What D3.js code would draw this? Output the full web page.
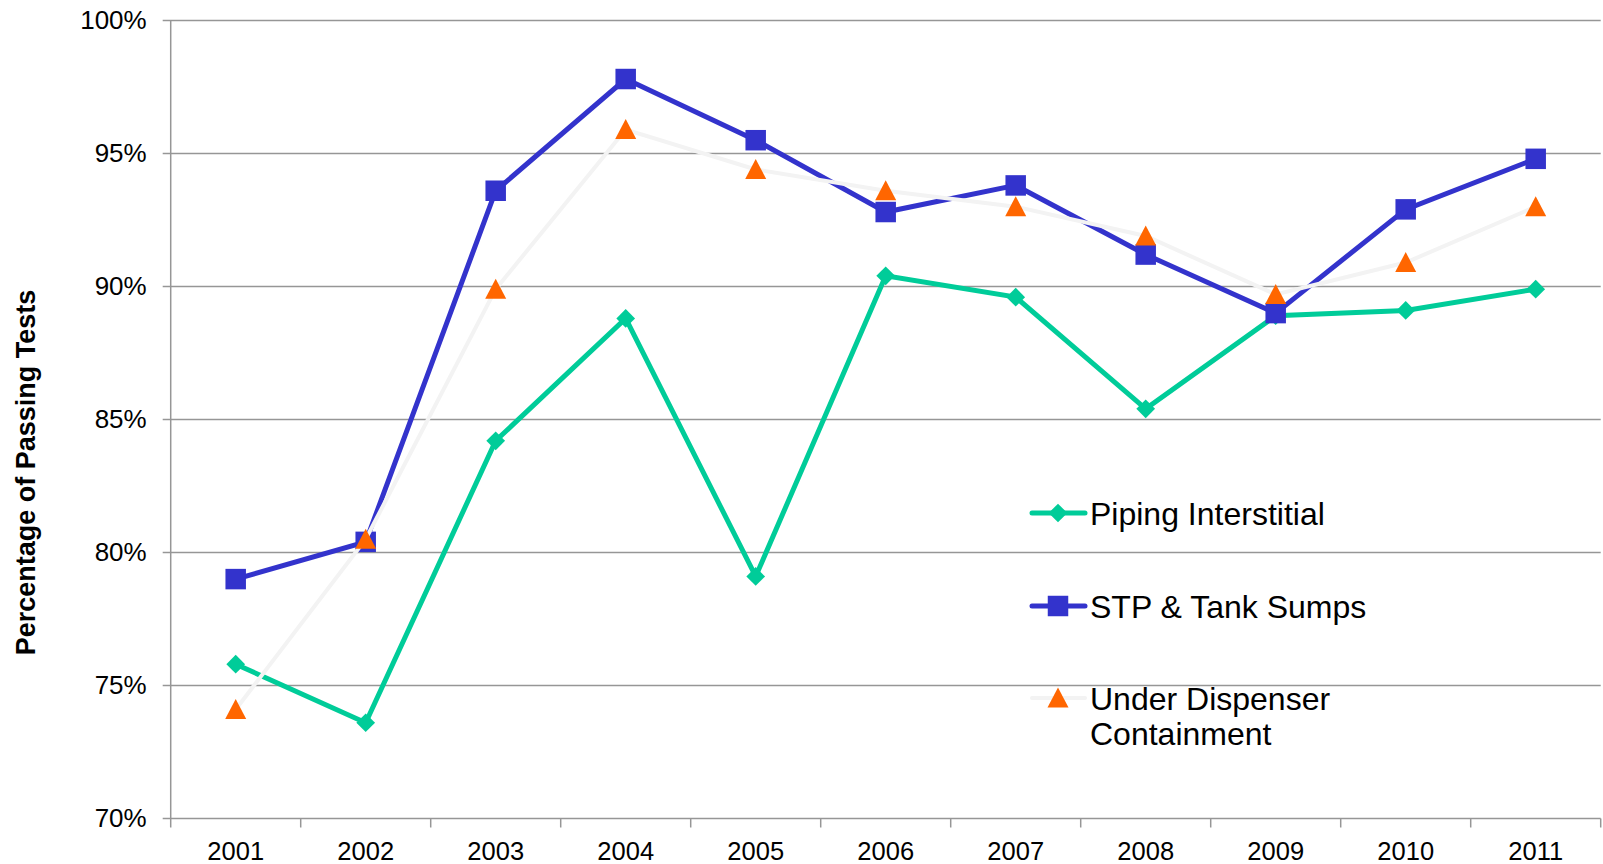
<!DOCTYPE html>
<html>
  <head>
	<meta charset="utf-8">
	<title>Percentage of Passing Tests</title>
	<script src="https://cdn.jsdelivr.net/npm/d3@7" type="text/javascript" charset="utf-8"></script>
	<style>
	  body { margin: 0; background: #fff; }
	  svg { display: block; font-family: "Liberation Sans", Arial, sans-serif; }
	</style>
  </head>
  <body>
	<svg></svg>
  </body>
  <script type="text/javascript">
	var years = ['2001', '2002', '2003', '2004', '2005', '2006', '2007', '2008', '2009', '2010', '2011'];
	var piping = [75.8, 73.6, 84.2, 88.8, 79.1, 90.4, 89.6, 85.4, 88.9, 89.1, 89.9];
	var sumps = [79.0, 80.4, 93.6, 97.8, 95.5, 92.8, 93.8, 91.2, 89.0, 92.9, 94.8];
	var dispenser = [74.1, 80.5, 89.9, 95.9, 94.4, 93.6, 93.0, 91.9, 89.7, 90.9, 93.0];
	var yTicks = [70, 75, 80, 85, 90, 95, 100];

	(function() {
	  var svg = d3.select('svg')
				.attr('width', 1603)
				.attr('height', 864),
		  left = 170.7, right = 1600.7, top = 20.5, bottom = 818.5;

	  var x = d3.scaleBand().domain(years).range([left, right]).padding(0);
	  var y = d3.scaleLinear().domain([70, 100]).range([bottom, top]);

	  // grid
	  svg.append('g').selectAll('line')
		 .data(yTicks)
		 .enter()
		 .append('line')
		 .attr('x1', left - 8)
		 .attr('x2', right)
		 .attr('y1', function(d) { return y(d); })
		 .attr('y2', function(d) { return y(d); })
		 .attr('stroke', '#969696')
		 .attr('stroke-width', 1.5);

	  svg.append('line')
		 .attr('x1', left).attr('x2', left)
		 .attr('y1', top).attr('y2', bottom)
		 .attr('stroke', '#969696')
		 .attr('stroke-width', 1.5);

	  // category boundary ticks
	  svg.append('g').selectAll('line')
		 .data(d3.range(years.length + 1))
		 .enter()
		 .append('line')
		 .attr('x1', function(i) { return left + i * x.bandwidth(); })
		 .attr('x2', function(i) { return left + i * x.bandwidth(); })
		 .attr('y1', bottom)
		 .attr('y2', bottom + 9)
		 .attr('stroke', '#969696')
		 .attr('stroke-width', 1.5);

	  var yAxis = svg.append('g')
				.attr('transform', 'translate(' + left + ',0)')
				.call(d3.axisLeft(y).tickValues(yTicks).tickSize(0).tickPadding(24)
				  .tickFormat(function(d) { return d + '%'; }));
	  yAxis.select('.domain').remove();
	  yAxis.selectAll('text').attr('font-size', 26).attr('fill', '#000')
		   .attr('font-family', '"Liberation Sans", Arial, sans-serif');

	  var xAxis = svg.append('g')
				.attr('transform', 'translate(0,' + bottom + ')')
				.call(d3.axisBottom(x).tickSize(0).tickPadding(23));
	  xAxis.select('.domain').remove();
	  xAxis.selectAll('text').attr('font-size', 25.5).attr('fill', '#000')
		   .attr('font-family', '"Liberation Sans", Arial, sans-serif');

	  svg.append('text')
		 .attr('transform', 'translate(34.5,' + ((top + bottom) / 2 + 53) + ') rotate(-90)')
		 .attr('text-anchor', 'middle')
		 .attr('font-size', 27)
		 .attr('font-weight', 'bold')
		 .text('Percentage of Passing Tests');

	  var cx = function(d, i) { return x(years[i]) + x.bandwidth() / 2; };
	  var line = d3.line()
				 .x(cx)
				 .y(function(d) { return y(d); });

	  var diamond = d3.symbol().type(d3.symbolSquare).size(175);
	  var square = d3.symbol().type(d3.symbolSquare).size(420);
	  var triangle = 'M0,-10.5L10.5,9.5L-10.5,9.5Z';

	  // Piping Interstitial
	  svg.append('path')
		 .attr('d', line(piping))
		 .attr('fill', 'none')
		 .attr('stroke', '#00CC99')
		 .attr('stroke-width', 5);
	  svg.selectAll('.piping')
		 .data(piping)
		 .enter()
		 .append('path')
		 .attr('class', 'piping')
		 .attr('d', diamond)
		 .attr('transform', function(d, i) { return 'translate(' + cx(d, i) + ',' + y(d) + ') rotate(45)'; })
		 .attr('fill', '#00CC99');

	  // STP & Tank Sumps
	  svg.append('path')
		 .attr('d', line(sumps))
		 .attr('fill', 'none')
		 .attr('stroke', '#3333CC')
		 .attr('stroke-width', 5);
	  svg.selectAll('.sumps')
		 .data(sumps)
		 .enter()
		 .append('path')
		 .attr('class', 'sumps')
		 .attr('d', square)
		 .attr('transform', function(d, i) { return 'translate(' + cx(d, i) + ',' + y(d) + ')'; })
		 .attr('fill', '#3333CC');

	  // Under Dispenser Containment
	  svg.append('path')
		 .attr('d', line(dispenser))
		 .attr('fill', 'none')
		 .attr('stroke', '#F3F3F3')
		 .attr('stroke-width', 4);
	  svg.selectAll('.dispenser')
		 .data(dispenser)
		 .enter()
		 .append('path')
		 .attr('class', 'dispenser')
		 .attr('d', triangle)
		 .attr('transform', function(d, i) { return 'translate(' + cx(d, i) + ',' + y(d) + ')'; })
		 .attr('fill', '#FF6600');

	  // legend
	  var legend = [
		{name: ['Piping Interstitial'], color: '#00CC99', y: 513, width: 5, marker: diamond, rot: 45},
		{name: ['STP & Tank Sumps'], color: '#3333CC', y: 606, width: 5, marker: square, rot: 0},
		{name: ['Under Dispenser', 'Containment'], color: '#F3F3F3', y: 698, width: 4, marker: triangle, rot: 0}
	  ];
	  var lg = svg.selectAll('.legend')
				  .data(legend)
				  .enter()
				  .append('g')
				  .attr('class', 'legend');
	  lg.append('line')
		.attr('x1', 1032)
		.attr('x2', 1085)
		.attr('y1', function(d) { return d.y; })
		.attr('y2', function(d) { return d.y; })
		.attr('stroke', function(d) { return d.color; })
		.attr('stroke-width', function(d) { return d.width; })
		.attr('stroke-linecap', 'round');
	  lg.append('path')
		.attr('d', function(d) { return typeof d.marker === 'string' ? d.marker : d.marker(); })
		.attr('transform', function(d) { return 'translate(1058,' + d.y + ') rotate(' + d.rot + ')'; })
		.attr('fill', function(d) { return d.color === '#F3F3F3' ? '#FF6600' : d.color; });
	  lg.each(function(d) {
		var t = d3.select(this).append('text')
				  .attr('x', 1090)
				  .attr('y', d.y + 11.5)
				  .attr('font-size', 32)
				  .attr('fill', '#000');
		d.name.forEach(function(s, k) {
		  t.append('tspan').attr('x', 1090).attr('dy', k === 0 ? 0 : 35).text(s);
		});
	  });
	})();
  </script>
</html>
